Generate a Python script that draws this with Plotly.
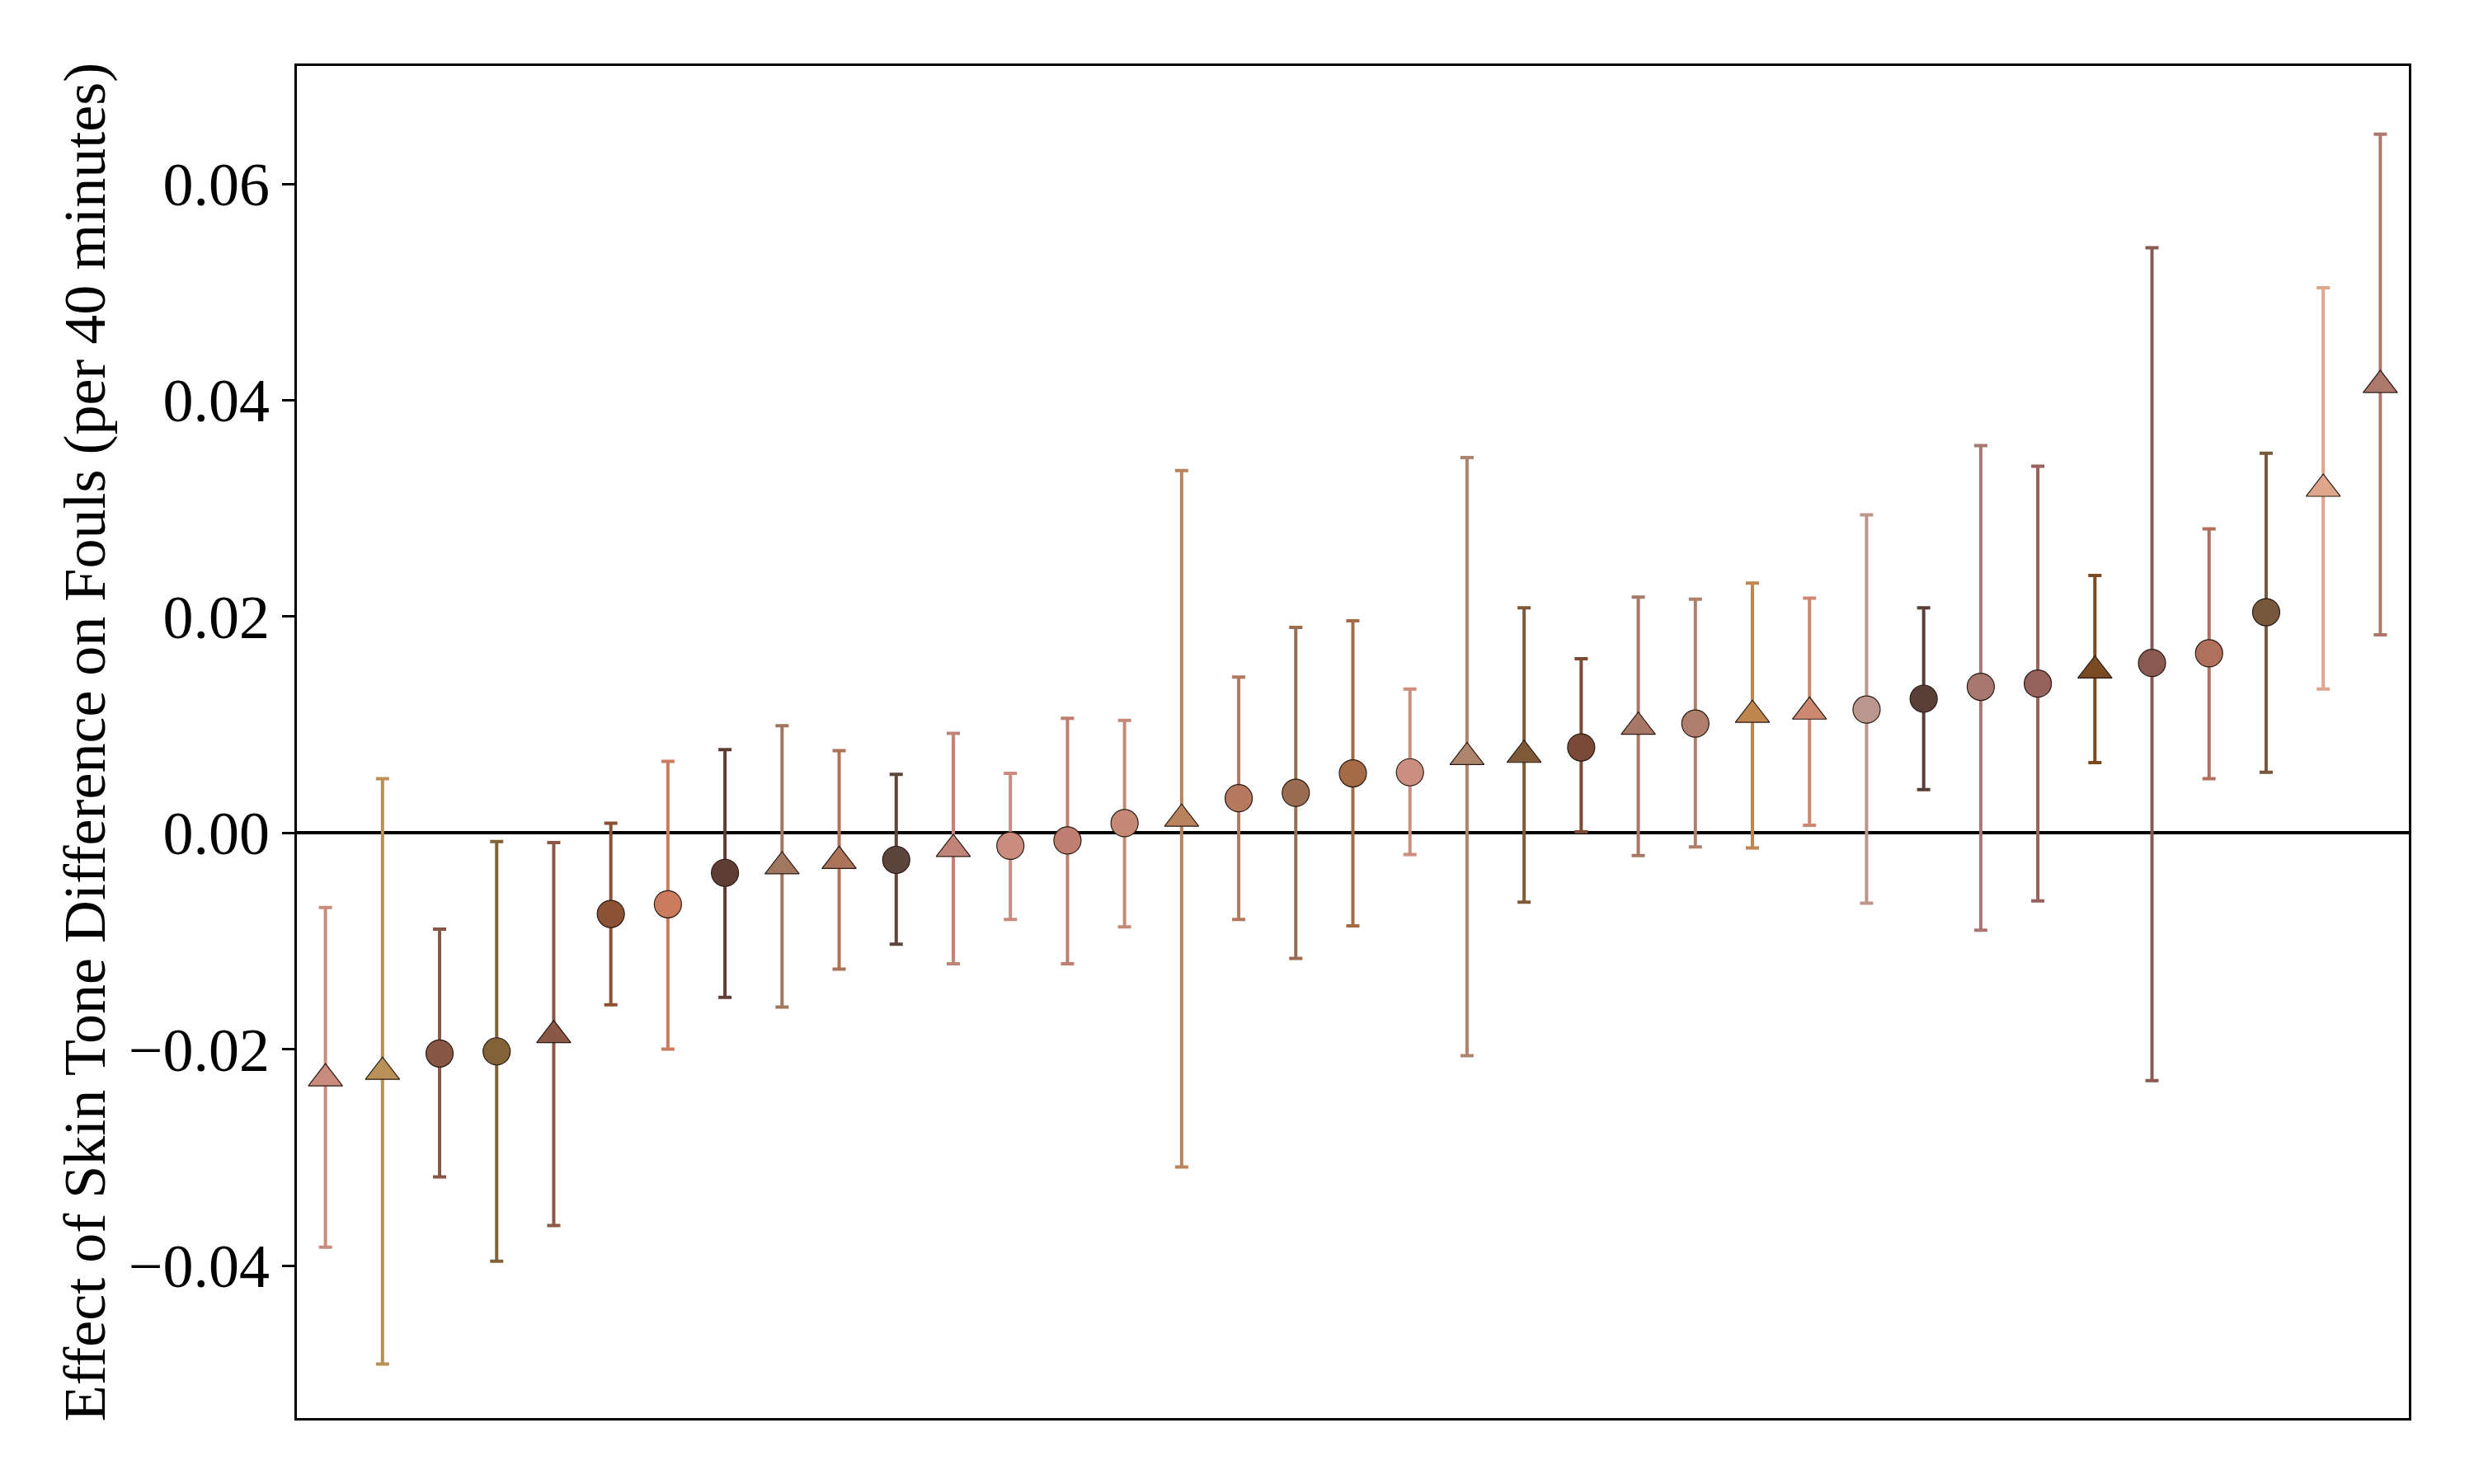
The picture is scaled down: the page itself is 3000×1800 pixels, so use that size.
import plotly.graph_objects as go

# Estimates, left to right (sorted by effect size)
effect = [
    -0.0227, -0.0221, -0.0204, -0.0202, -0.0187, -0.0075, -0.0066, -0.0037,
    -0.0031, -0.0026, -0.0025, -0.0015, -0.0012, -0.0007, 0.0009, 0.0013,
    0.0032, 0.0037, 0.0055, 0.0056, 0.0070, 0.0072, 0.0079, 0.0098,
    0.0101, 0.0109, 0.0112, 0.0114, 0.0124, 0.0135, 0.0138, 0.0150,
    0.0157, 0.0166, 0.0204, 0.0318, 0.0414,
]
ci_high = [
    -0.0069, 0.0050, -0.0089, -0.0008, -0.0009, 0.0009, 0.0066, 0.0077,
    0.0099, 0.0076, 0.0054, 0.0092, 0.0055, 0.0106, 0.0104, 0.0335,
    0.0144, 0.0190, 0.0196, 0.0133, 0.0347, 0.0208, 0.0161, 0.0218,
    0.0216, 0.0231, 0.0217, 0.0294, 0.0208, 0.0358, 0.0339, 0.0238,
    0.0541, 0.0281, 0.0351, 0.0504, 0.0646,
]
ci_low = [
    -0.0383, -0.0491, -0.0318, -0.0396, -0.0363, -0.0159, -0.0200, -0.0152,
    -0.0161, -0.0126, -0.0103, -0.0121, -0.0080, -0.0121, -0.0087, -0.0309,
    -0.0080, -0.0116, -0.0086, -0.0020, -0.0206, -0.0064, 0.0001, -0.0021,
    -0.0013, -0.0014, 0.0007, -0.0065, 0.0040, -0.0090, -0.0063, 0.0065,
    -0.0229, 0.0050, 0.0056, 0.0133, 0.0183,
]
shapes = [
    "triangle-up", "triangle-up", "circle", "circle", "triangle-up", "circle",
    "circle", "circle", "triangle-up", "triangle-up", "circle", "triangle-up",
    "circle", "circle", "circle", "triangle-up", "circle", "circle", "circle",
    "circle", "triangle-up", "triangle-up", "circle", "triangle-up", "circle",
    "triangle-up", "triangle-up", "circle", "circle", "circle", "circle",
    "triangle-up", "circle", "circle", "circle", "triangle-up", "triangle-up",
]
colors = [
    "#c98b7e", "#b89058", "#885744", "#836238", "#8a5844", "#8b5236",
    "#cc7c5e", "#603d34", "#a07860", "#aa735a", "#5c453c", "#c08478",
    "#c98c7e", "#c07e70", "#c48a76", "#b9835e", "#b6785e", "#9a6c52",
    "#a56a46", "#cc8e7e", "#ad846c", "#7e5a38", "#7a4a36", "#a67868",
    "#b07e6c", "#c08650", "#cc8870", "#bb968c", "#5a3e38", "#a87870",
    "#98625c", "#7a4a22", "#8a5a50", "#b0705c", "#76583c", "#dea68c",
    "#ad786c",
]
y_ticks = [-0.04, -0.02, 0.0, 0.02, 0.04, 0.06]

FONT = "Liberation Serif"

fig = go.Figure()
for i, (est, hi, lo, sym, col) in enumerate(zip(effect, ci_high, ci_low, shapes, colors)):
    fig.add_trace(go.Scatter(
        x=[i], y=[est],
        mode="markers",
        marker=dict(symbol=sym, size=36 if sym == "triangle-up" else 33, color=col,
                    line=dict(color="#2a1c14", width=1.2)),
        error_y=dict(type="data", symmetric=False,
                     array=[hi - est], arrayminus=[est - lo],
                     color=col, thickness=4, width=8),
        showlegend=False,
    ))

# page body has an 8px margin, so margins are offset to land the frame where the reference has it
fig.update_layout(
    width=3000, height=1800,
    margin=dict(l=352, r=87, t=72, b=88),
    plot_bgcolor="white", paper_bgcolor="white",
    font=dict(family=FONT, size=74, color="black"),
)
fig.update_xaxes(
    range=[-0.5, len(effect) - 0.5],
    showticklabels=False, ticks="", showgrid=False, zeroline=False,
    showline=True, linecolor="black", linewidth=3.3, mirror=True,
)
fig.update_yaxes(
    range=[-0.0541, 0.0709],
    tickmode="array", tickvals=y_ticks, tickformat=".2f",
    ticks="outside", ticklen=15, tickwidth=3.3, tickcolor="black",
    ticklabelstandoff=0,
    showgrid=False,
    zeroline=True, zerolinecolor="black", zerolinewidth=4,
    showline=True, linecolor="black", linewidth=3.3, mirror=True,
    title=dict(text="Effect of Skin Tone Difference on Fouls (per 40 minutes)",
               standoff=5, font=dict(family=FONT, size=72)),
)

fig.write_html("out.html")
